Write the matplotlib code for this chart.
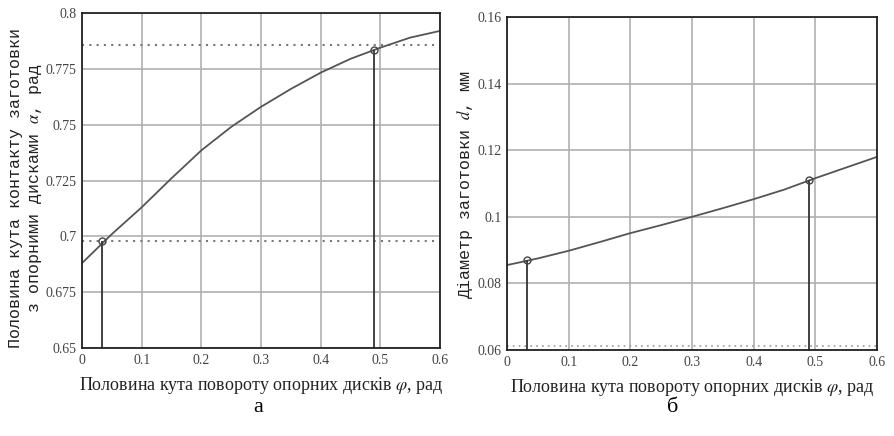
import matplotlib
matplotlib.use("Agg")
from matplotlib import pyplot as plt

# --- дані ---
phi = [0, 0.05, 0.1, 0.15, 0.2, 0.25, 0.3, 0.35, 0.4, 0.45, 0.5, 0.55, 0.6]
alpha = [0.688, 0.701, 0.713, 0.726, 0.7385, 0.749, 0.758, 0.766, 0.7733, 0.7795, 0.7845, 0.789, 0.792]
diam = [0.0855, 0.0875, 0.0898, 0.0924, 0.0951, 0.0975, 0.1000, 0.1026, 0.1053, 0.1082, 0.1116, 0.1148, 0.118]

phi_pts = [0.033, 0.49]
alpha_pts = [0.698, 0.7834]
alpha_lines = [0.6977, 0.7855]
diam_pts = [0.087, 0.111]
diam_line = 0.0613

xticks = [0, 0.1, 0.2, 0.3, 0.4, 0.5, 0.6]
yticks_a = [0.65, 0.675, 0.7, 0.725, 0.75, 0.775, 0.8]
yticks_b = [0.06, 0.08, 0.1, 0.12, 0.14, 0.16]

plt.rcParams['font.family'] = ['Liberation Serif', 'DejaVu Serif']
plt.rcParams['mathtext.fontset'] = 'stix'

fig = plt.figure(figsize=(8.94, 4.36), dpi=100)
ax1 = fig.add_axes([0.0917, 0.2018, 0.4005, 0.7683])
ax2 = fig.add_axes([0.5671, 0.1972, 0.4139, 0.7638])

xlab = 'Половина кута повороту опорних дисків $\\varphi$, рад'


def oformyty(ax, yticks):
    ax.set_xlim(0, 0.6)
    ax.set_ylim(yticks[0], yticks[-1])
    ax.set_xticks(xticks)
    ax.set_yticks(yticks)
    ax.set_xticklabels(['%g' % t for t in xticks])
    ax.set_yticklabels(['%g' % t for t in yticks])
    ax.tick_params(length=0, labelsize=10, pad=4, colors='#444444')
    ax.grid(True, color='#b0b0b0', linewidth=1.2)
    ax.set_axisbelow(True)
    for s in ax.spines.values():
        s.set_color('#222222')
        s.set_linewidth(1.3)
    ax.set_xlabel(xlab, fontsize=13, color='#222222', labelpad=6)


# а
oformyty(ax1, yticks_a)
for yl in alpha_lines:
    ax1.axhline(yl, color='#777777', linestyle=(0, (1, 2.5)), linewidth=1.5)
ax1.plot(phi, alpha, color='#555555', linewidth=1.3)
ax1.vlines(phi_pts, yticks_a[0], alpha_pts, color='#333333', linewidth=1.3)
ax1.plot(phi_pts, alpha_pts, 'o', mfc='none', mec='#444444', ms=5, mew=1.0)

# б
oformyty(ax2, yticks_b)
ax2.axhline(diam_line, color='#999999', linestyle=(0, (1, 2.5)), linewidth=1.2)
ax2.plot(phi, diam, color='#555555', linewidth=1.3)
ax2.vlines(phi_pts, yticks_b[0], diam_pts, color='#333333', linewidth=1.3)
ax2.plot(phi_pts, diam_pts, 'o', mfc='none', mec='#444444', ms=5, mew=1.0)

# підписи осей y (моноширинний шрифт, як на оригіналі)
fig.text(0.029, 0.569, 'Половина кута контакту заготовки\nз опорними дисками $\\alpha$, рад',
         rotation=90, ha='center', va='center', fontsize=12, color='#222222',
         family=['Liberation Mono', 'DejaVu Sans Mono'], linespacing=1.3)
fig.text(0.520, 0.576, 'Діаметр заготовки $d$, мм',
         rotation=90, ha='center', va='center', fontsize=12, color='#222222',
         family=['Liberation Mono', 'DejaVu Sans Mono'])

fig.text(0.289, 0.066, 'а', fontsize=16, ha='center', va='center')
fig.text(0.752, 0.066, 'б', fontsize=16, ha='center', va='center')

fig.savefig('out.png', dpi=100, facecolor='white')
